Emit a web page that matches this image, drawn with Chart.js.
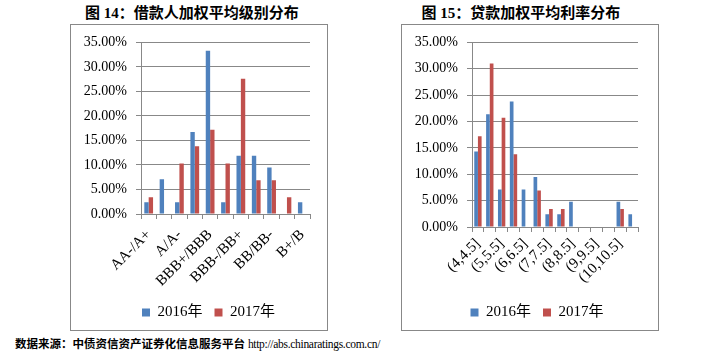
<!DOCTYPE html>
<html>
<head>
<meta charset="utf-8">
<script src="https://cdn.jsdelivr.net/npm/chart.js@4/dist/chart.umd.min.js"></script>
<style>
  html, body { margin: 0; padding: 0; background: #fff; }
  #page { position: relative; width: 706px; height: 354px; overflow: hidden; font-family: "Liberation Serif", "Noto Sans CJK SC", serif; }
  .title { position: absolute; top: 1px; font-size: 15px; font-weight: bold; color: #000; white-space: nowrap; transform: translateX(-50%); font-family: "Liberation Serif", "Noto Sans CJK SC", serif; }
  .box { position: absolute; top: 24px; width: 256px; height: 305px; border: 1px solid #888; }
  .box canvas { display: block; }
  #src { position: absolute; left: 15px; top: 335px; font-size: 11.5px; white-space: nowrap; color: #000; }
  #src .cn { font-family: "Noto Sans CJK SC", sans-serif; font-weight: bold; }
  #src .url { font-family: "Liberation Serif", serif; font-size: 11.5px; letter-spacing: -0.3px; }
</style>
</head>
<body>
<div id="page">
  <div class="title" style="left:192px;">图 14：借款人加权平均级别分布</div>
  <div class="title" style="left:521px;">图 15：贷款加权平均利率分布</div>
  <div class="box" style="left:70px;"><canvas id="c1" width="256" height="305"></canvas></div>
  <div class="box" style="left:401px;"><canvas id="c2" width="256" height="305"></canvas></div>
  <div id="src"><span class="cn">数据来源：中债资信资产证券化信息服务平台</span> <span class="url">http://abs.chinaratings.com.cn/</span></div>
</div>
<script>
// ---- Data ----
const seriesNames = ["2016年", "2017年"];
const ratingCategories = ["AA-/A+", "A+/A", "A/A-", "A-/BBB+", "BBB+/BBB", "BBB/BBB-", "BBB-/BB+", "BB+/BB", "BB/BB-", "BB-/B+", "B+/B"];
const rating2016 = [2.4, 7.1, 2.4, 16.7, 33.3, 2.4, 11.9, 11.9, 9.5, 0, 2.4];
const rating2017 = [3.4, 0, 10.3, 13.8, 17.2, 10.3, 27.6, 6.9, 6.9, 3.4, 0];

const rateCategories = ["(4,4.5]", "(4.5,5]", "(5,5.5]", "(5.5,6]", "(6,6.5]", "(6.5,7]", "(7,7.5]", "(7.5,8]", "(8,8.5]", "(8.5,9]", "(9,9.5]", "(9.5,10]", "(10,10.5]", "(10.5,11]"];
const rate2016 = [14.3, 21.4, 7.1, 23.8, 7.1, 9.5, 2.4, 2.4, 4.8, 0, 0, 0, 4.8, 2.4];
const rate2017 = [17.2, 31.0, 20.7, 13.8, 0, 6.9, 3.4, 3.4, 0, 0, 0, 0, 3.4, 0];

const yTicks = [0, 5, 10, 15, 20, 25, 30, 35];

// ---- Styles ----
const BLUE = "#4F81BD";
const RED = "#C0504D";
const GRID = "#888888";
const FONT = "'Liberation Serif', 'Noto Sans CJK SC', serif";

// shift the legend horizontally (Excel centres it on the whole chart box)
const legendShift = {
  id: "legendShift",
  afterLayout(chart, args, o) {
    const l = chart.legend;
    if (l && o.dx) { l.left += o.dx; l.right += o.dx; }
  }
};

function makeChart(id, cats, s1, s2, opts) {
  return new Chart(document.getElementById(id), {
    type: "bar",
    data: {
      labels: cats,
      datasets: [
        { label: seriesNames[0], data: s1, backgroundColor: BLUE, borderWidth: 0, categoryPercentage: opts.catPct, barPercentage: 1.0 },
        { label: seriesNames[1], data: s2, backgroundColor: RED, borderWidth: 0, categoryPercentage: opts.catPct, barPercentage: 1.0 }
      ]
    },
    plugins: [legendShift],
    options: {
      responsive: false,
      animation: false,
      devicePixelRatio: 1,
      layout: { padding: { top: 17, right: opts.padRight, bottom: 0, left: 0 } },
      plugins: {
        legendShift: { dx: opts.legendDx },
        legend: {
          position: "bottom",
          labels: { boxWidth: 8, boxHeight: 8, padding: 12, color: "#000", font: { family: FONT, size: 15 } }
        },
        tooltip: { enabled: false }
      },
      scales: {
        x: {
          offset: true,
          grid: { display: true, drawOnChartArea: false, drawTicks: true, tickLength: 5, offset: true, color: GRID },
          border: { display: true, color: GRID, width: 1 },
          ticks: {
            autoSkip: false, minRotation: 45, maxRotation: 45, padding: opts.xPad,
            color: "#000", font: { family: FONT, size: 15 },
            callback: function (v, i) { return i % 2 === 0 ? this.getLabelForValue(v) : ""; }
          },
          afterFit: function (s) { s.height = opts.xHeight; }
        },
        y: {
          min: 0, max: 35,
          afterBuildTicks: function (s) { s.ticks = yTicks.map(v => ({ value: v })); },
          grid: { color: GRID, drawTicks: true, tickLength: 5, lineWidth: 1 },
          border: { display: true, color: GRID, width: 1 },
          ticks: {
            padding: 9, color: "#000", font: { family: FONT, size: 14 },
            callback: v => v.toFixed(2) + "%"
          },
          afterFit: function (s) { s.width = 70; }
        }
      }
    }
  });
}

makeChart("c1", ratingCategories, rating2016, rating2017, { catPct: 0.57, padRight: 17, xHeight: 79, xPad: 7, legendDx: 18 });
makeChart("c2", rateCategories, rate2016, rate2017, { catPct: 0.62, padRight: 20, xHeight: 66, xPad: 3, legendDx: 17 });
</script>
</body>
</html>
